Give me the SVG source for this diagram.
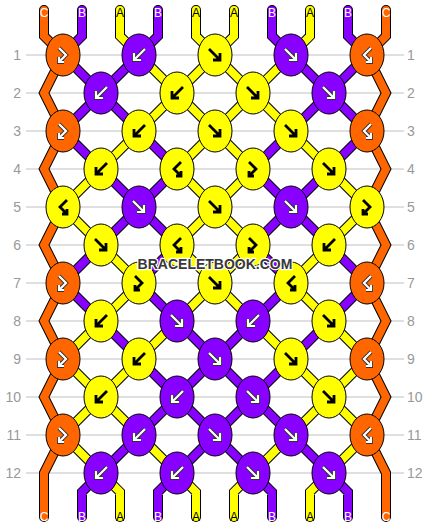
<svg xmlns="http://www.w3.org/2000/svg" xmlns:xlink="http://www.w3.org/1999/xlink" width="430" height="528" viewBox="0 0 430 528">
<style>
.ln{stroke:#c0c0c0;stroke-width:1}
.rn{font-family:"Liberation Sans",Arial,sans-serif;font-size:14px;fill:#999}
.rl{text-anchor:end}
.so{fill:none;stroke:#000;stroke-width:10;stroke-linecap:round;stroke-linejoin:miter}
.sf{fill:none;stroke-width:8;stroke-linecap:round;stroke-linejoin:miter}
.cy{stroke:#ffff00}.cp{stroke:#8800ff}.co{stroke:#ff6600}
.k{stroke:#000;stroke-width:1}
.ky{fill:#ffff00}.kp{fill:#8800ff}.ko{fill:#ff6600}
.ab{fill:none;stroke:#000;stroke-width:2.8}
.ao{fill:none;stroke:#333;stroke-width:4}
.aw{fill:none;stroke:#fff;stroke-width:2.2}
.lb{font-family:"Liberation Sans",Arial,sans-serif;font-size:12px;text-anchor:middle}
.lw{fill:#fff}.lk{fill:#000}
.wm{font-family:"Liberation Sans",Arial,sans-serif;font-weight:bold;font-size:14px;text-anchor:middle;fill:#383838;stroke:#fff;stroke-width:2.5;paint-order:stroke;stroke-linejoin:round}
</style>
<defs>
<path id="F" d="M-6 -6L5 5M5 -2V5H-2"/>
<path id="B" d="M6 -6L-5 5M-5 -2V5H2"/>
<path id="FB" d="M-4 -7L3 0L-4 7M-4 2V7H1"/>
<path id="BF" d="M4 -7L-3 0L4 7M4 2V7H-1"/>
<path id="sY" d="M139 55L177 93M215 55L177 93M215 55L253 93M291 55L253 93M177 93L139 131M177 93L215 131M253 93L215 131M253 93L291 131M139 131L101 169M215 131L177 169M215 131L253 169M291 131L329 169M101 169L63 207M177 169L215 207M253 169L215 207M329 169L367 207M63 207L101 245M215 207L177 245M215 207L253 245M367 207L329 245M101 245L139 283M177 245L215 283M253 245L215 283M329 245L291 283M139 283L101 321M215 283L177 321M215 283L253 321M291 283L329 321M101 321L63 359M177 321L139 359M253 321L291 359M329 321L367 359M63 359L101 397M139 359L101 397M291 359L329 397M367 359L329 397M101 397L63 435M101 397L139 435M329 397L291 435M329 397L367 435M63 435L101 473M139 435L177 473M291 435L253 473M367 435L329 473M120 10L120 36L139 55M196 10L196 36L215 55M234 10L234 36L215 55M310 10L310 36L291 55M101 473L120 492L120 517M177 473L196 492L196 517M253 473L234 492L234 517M329 473L310 492L310 517"/>
<path id="sP" d="M63 55L101 93M139 55L101 93M291 55L329 93M367 55L329 93M101 93L63 131M101 93L139 131M329 93L291 131M329 93L367 131M63 131L101 169M139 131L177 169M291 131L253 169M367 131L329 169M101 169L139 207M177 169L139 207M253 169L291 207M329 169L291 207M139 207L101 245M139 207L177 245M291 207L253 245M291 207L329 245M101 245L63 283M177 245L139 283M253 245L291 283M329 245L367 283M63 283L101 321M139 283L177 321M291 283L253 321M367 283L329 321M101 321L139 359M177 321L215 359M253 321L215 359M329 321L291 359M139 359L177 397M215 359L177 397M215 359L253 397M291 359L253 397M177 397L139 435M177 397L215 435M253 397L215 435M253 397L291 435M139 435L101 473M215 435L177 473M215 435L253 473M291 435L329 473M82 10L82 36L63 55M158 10L158 36L139 55M272 10L272 36L291 55M348 10L348 36L367 55M101 473L82 492L82 517M177 473L158 492L158 517M253 473L272 492L272 517M329 473L348 492L348 517"/>
<path id="sO" d="M44 10L44 36L63 55L44 93L63 131L44 169L63 207L44 245L63 283L44 321L63 359L44 397L63 435L44 473L44 517M386 10L386 36L367 55L386 93L367 131L386 169L367 207L386 245L367 283L386 321L367 359L386 397L367 435L386 473L386 517"/>
</defs>
<g id="grid">
<line class="ln" x1="26" y1="55" x2="404" y2="55"/><line class="ln" x1="26" y1="93" x2="404" y2="93"/><line class="ln" x1="26" y1="131" x2="404" y2="131"/><line class="ln" x1="26" y1="169" x2="404" y2="169"/><line class="ln" x1="26" y1="207" x2="404" y2="207"/><line class="ln" x1="26" y1="245" x2="404" y2="245"/><line class="ln" x1="26" y1="283" x2="404" y2="283"/><line class="ln" x1="26" y1="321" x2="404" y2="321"/><line class="ln" x1="26" y1="359" x2="404" y2="359"/><line class="ln" x1="26" y1="397" x2="404" y2="397"/><line class="ln" x1="26" y1="435" x2="404" y2="435"/><line class="ln" x1="26" y1="473" x2="404" y2="473"/>
<g class="rn">
<text class="rl" x="21" y="60">1</text><text class="rl" x="21" y="98">2</text><text class="rl" x="21" y="136">3</text><text class="rl" x="21" y="174">4</text><text class="rl" x="21" y="212">5</text><text class="rl" x="21" y="250">6</text><text class="rl" x="21" y="288">7</text><text class="rl" x="21" y="326">8</text><text class="rl" x="21" y="364">9</text><text class="rl" x="21" y="402">10</text><text class="rl" x="21" y="440">11</text><text class="rl" x="21" y="478">12</text>
<text x="407" y="60">1</text><text x="407" y="98">2</text><text x="407" y="136">3</text><text x="407" y="174">4</text><text x="407" y="212">5</text><text x="407" y="250">6</text><text x="407" y="288">7</text><text x="407" y="326">8</text><text x="407" y="364">9</text><text x="407" y="402">10</text><text x="407" y="440">11</text><text x="407" y="478">12</text>
</g>
</g>
<g id="connectors">
<use href="#sY" class="so"/><use href="#sP" class="so"/><use href="#sO" class="so"/>
<use href="#sY" class="sf cy"/><use href="#sP" class="sf cp"/><use href="#sO" class="sf co"/>
</g>
<g id="labels">
<text class="lb lw" x="44" y="17">C</text><text class="lb lw" x="82" y="17">B</text><text class="lb lk" x="120" y="17">A</text><text class="lb lw" x="158" y="17">B</text><text class="lb lk" x="196" y="17">A</text><text class="lb lk" x="234" y="17">A</text><text class="lb lw" x="272" y="17">B</text><text class="lb lk" x="310" y="17">A</text><text class="lb lw" x="348" y="17">B</text><text class="lb lw" x="386" y="17">C</text>
<text class="lb lw" x="44" y="521">C</text><text class="lb lw" x="82" y="521">B</text><text class="lb lk" x="120" y="521">A</text><text class="lb lw" x="158" y="521">B</text><text class="lb lk" x="196" y="521">A</text><text class="lb lk" x="234" y="521">A</text><text class="lb lw" x="272" y="521">B</text><text class="lb lk" x="310" y="521">A</text><text class="lb lw" x="348" y="521">B</text><text class="lb lw" x="386" y="521">C</text>
</g>
<g id="knots">
<g id="k1-1"><ellipse class="k ko" cx="63" cy="55" rx="17" ry="21"/><use href="#FB" x="63" y="55" class="ao"/><use href="#FB" x="63" y="55" class="aw"/></g>
<g id="k1-2"><ellipse class="k kp" cx="139" cy="55" rx="17" ry="21"/><use href="#B" x="139" y="55" class="ao"/><use href="#B" x="139" y="55" class="aw"/></g>
<g id="k1-3"><ellipse class="k ky" cx="215" cy="55" rx="17" ry="21"/><use href="#F" x="215" y="55" class="ab"/></g>
<g id="k1-4"><ellipse class="k kp" cx="291" cy="55" rx="17" ry="21"/><use href="#F" x="291" y="55" class="ao"/><use href="#F" x="291" y="55" class="aw"/></g>
<g id="k1-5"><ellipse class="k ko" cx="367" cy="55" rx="17" ry="21"/><use href="#BF" x="367" y="55" class="ao"/><use href="#BF" x="367" y="55" class="aw"/></g>
<g id="k2-1"><ellipse class="k kp" cx="101" cy="93" rx="17" ry="21"/><use href="#B" x="101" y="93" class="ao"/><use href="#B" x="101" y="93" class="aw"/></g>
<g id="k2-2"><ellipse class="k ky" cx="177" cy="93" rx="17" ry="21"/><use href="#B" x="177" y="93" class="ab"/></g>
<g id="k2-3"><ellipse class="k ky" cx="253" cy="93" rx="17" ry="21"/><use href="#F" x="253" y="93" class="ab"/></g>
<g id="k2-4"><ellipse class="k kp" cx="329" cy="93" rx="17" ry="21"/><use href="#F" x="329" y="93" class="ao"/><use href="#F" x="329" y="93" class="aw"/></g>
<g id="k3-1"><ellipse class="k ko" cx="63" cy="131" rx="17" ry="21"/><use href="#FB" x="63" y="131" class="ao"/><use href="#FB" x="63" y="131" class="aw"/></g>
<g id="k3-2"><ellipse class="k ky" cx="139" cy="131" rx="17" ry="21"/><use href="#B" x="139" y="131" class="ab"/></g>
<g id="k3-3"><ellipse class="k ky" cx="215" cy="131" rx="17" ry="21"/><use href="#F" x="215" y="131" class="ab"/></g>
<g id="k3-4"><ellipse class="k ky" cx="291" cy="131" rx="17" ry="21"/><use href="#F" x="291" y="131" class="ab"/></g>
<g id="k3-5"><ellipse class="k ko" cx="367" cy="131" rx="17" ry="21"/><use href="#BF" x="367" y="131" class="ao"/><use href="#BF" x="367" y="131" class="aw"/></g>
<g id="k4-1"><ellipse class="k ky" cx="101" cy="169" rx="17" ry="21"/><use href="#B" x="101" y="169" class="ab"/></g>
<g id="k4-2"><ellipse class="k ky" cx="177" cy="169" rx="17" ry="21"/><use href="#BF" x="177" y="169" class="ab"/></g>
<g id="k4-3"><ellipse class="k ky" cx="253" cy="169" rx="17" ry="21"/><use href="#FB" x="253" y="169" class="ab"/></g>
<g id="k4-4"><ellipse class="k ky" cx="329" cy="169" rx="17" ry="21"/><use href="#F" x="329" y="169" class="ab"/></g>
<g id="k5-1"><ellipse class="k ky" cx="63" cy="207" rx="17" ry="21"/><use href="#BF" x="63" y="207" class="ab"/></g>
<g id="k5-2"><ellipse class="k kp" cx="139" cy="207" rx="17" ry="21"/><use href="#F" x="139" y="207" class="ao"/><use href="#F" x="139" y="207" class="aw"/></g>
<g id="k5-3"><ellipse class="k ky" cx="215" cy="207" rx="17" ry="21"/><use href="#F" x="215" y="207" class="ab"/></g>
<g id="k5-4"><ellipse class="k kp" cx="291" cy="207" rx="17" ry="21"/><use href="#F" x="291" y="207" class="ao"/><use href="#F" x="291" y="207" class="aw"/></g>
<g id="k5-5"><ellipse class="k ky" cx="367" cy="207" rx="17" ry="21"/><use href="#FB" x="367" y="207" class="ab"/></g>
<g id="k6-1"><ellipse class="k ky" cx="101" cy="245" rx="17" ry="21"/><use href="#F" x="101" y="245" class="ab"/></g>
<g id="k6-2"><ellipse class="k ky" cx="177" cy="245" rx="17" ry="21"/><use href="#BF" x="177" y="245" class="ab"/></g>
<g id="k6-3"><ellipse class="k ky" cx="253" cy="245" rx="17" ry="21"/><use href="#FB" x="253" y="245" class="ab"/></g>
<g id="k6-4"><ellipse class="k ky" cx="329" cy="245" rx="17" ry="21"/><use href="#B" x="329" y="245" class="ab"/></g>
<g id="k7-1"><ellipse class="k ko" cx="63" cy="283" rx="17" ry="21"/><use href="#FB" x="63" y="283" class="ao"/><use href="#FB" x="63" y="283" class="aw"/></g>
<g id="k7-2"><ellipse class="k ky" cx="139" cy="283" rx="17" ry="21"/><use href="#FB" x="139" y="283" class="ab"/></g>
<g id="k7-3"><ellipse class="k ky" cx="215" cy="283" rx="17" ry="21"/><use href="#F" x="215" y="283" class="ab"/></g>
<g id="k7-4"><ellipse class="k ky" cx="291" cy="283" rx="17" ry="21"/><use href="#BF" x="291" y="283" class="ab"/></g>
<g id="k7-5"><ellipse class="k ko" cx="367" cy="283" rx="17" ry="21"/><use href="#BF" x="367" y="283" class="ao"/><use href="#BF" x="367" y="283" class="aw"/></g>
<g id="k8-1"><ellipse class="k ky" cx="101" cy="321" rx="17" ry="21"/><use href="#B" x="101" y="321" class="ab"/></g>
<g id="k8-2"><ellipse class="k kp" cx="177" cy="321" rx="17" ry="21"/><use href="#F" x="177" y="321" class="ao"/><use href="#F" x="177" y="321" class="aw"/></g>
<g id="k8-3"><ellipse class="k kp" cx="253" cy="321" rx="17" ry="21"/><use href="#B" x="253" y="321" class="ao"/><use href="#B" x="253" y="321" class="aw"/></g>
<g id="k8-4"><ellipse class="k ky" cx="329" cy="321" rx="17" ry="21"/><use href="#F" x="329" y="321" class="ab"/></g>
<g id="k9-1"><ellipse class="k ko" cx="63" cy="359" rx="17" ry="21"/><use href="#FB" x="63" y="359" class="ao"/><use href="#FB" x="63" y="359" class="aw"/></g>
<g id="k9-2"><ellipse class="k ky" cx="139" cy="359" rx="17" ry="21"/><use href="#B" x="139" y="359" class="ab"/></g>
<g id="k9-3"><ellipse class="k kp" cx="215" cy="359" rx="17" ry="21"/><use href="#F" x="215" y="359" class="ao"/><use href="#F" x="215" y="359" class="aw"/></g>
<g id="k9-4"><ellipse class="k ky" cx="291" cy="359" rx="17" ry="21"/><use href="#F" x="291" y="359" class="ab"/></g>
<g id="k9-5"><ellipse class="k ko" cx="367" cy="359" rx="17" ry="21"/><use href="#BF" x="367" y="359" class="ao"/><use href="#BF" x="367" y="359" class="aw"/></g>
<g id="k10-1"><ellipse class="k ky" cx="101" cy="397" rx="17" ry="21"/><use href="#B" x="101" y="397" class="ab"/></g>
<g id="k10-2"><ellipse class="k kp" cx="177" cy="397" rx="17" ry="21"/><use href="#B" x="177" y="397" class="ao"/><use href="#B" x="177" y="397" class="aw"/></g>
<g id="k10-3"><ellipse class="k kp" cx="253" cy="397" rx="17" ry="21"/><use href="#F" x="253" y="397" class="ao"/><use href="#F" x="253" y="397" class="aw"/></g>
<g id="k10-4"><ellipse class="k ky" cx="329" cy="397" rx="17" ry="21"/><use href="#F" x="329" y="397" class="ab"/></g>
<g id="k11-1"><ellipse class="k ko" cx="63" cy="435" rx="17" ry="21"/><use href="#FB" x="63" y="435" class="ao"/><use href="#FB" x="63" y="435" class="aw"/></g>
<g id="k11-2"><ellipse class="k kp" cx="139" cy="435" rx="17" ry="21"/><use href="#B" x="139" y="435" class="ao"/><use href="#B" x="139" y="435" class="aw"/></g>
<g id="k11-3"><ellipse class="k kp" cx="215" cy="435" rx="17" ry="21"/><use href="#F" x="215" y="435" class="ao"/><use href="#F" x="215" y="435" class="aw"/></g>
<g id="k11-4"><ellipse class="k kp" cx="291" cy="435" rx="17" ry="21"/><use href="#F" x="291" y="435" class="ao"/><use href="#F" x="291" y="435" class="aw"/></g>
<g id="k11-5"><ellipse class="k ko" cx="367" cy="435" rx="17" ry="21"/><use href="#BF" x="367" y="435" class="ao"/><use href="#BF" x="367" y="435" class="aw"/></g>
<g id="k12-1"><ellipse class="k kp" cx="101" cy="473" rx="17" ry="21"/><use href="#B" x="101" y="473" class="ao"/><use href="#B" x="101" y="473" class="aw"/></g>
<g id="k12-2"><ellipse class="k kp" cx="177" cy="473" rx="17" ry="21"/><use href="#B" x="177" y="473" class="ao"/><use href="#B" x="177" y="473" class="aw"/></g>
<g id="k12-3"><ellipse class="k kp" cx="253" cy="473" rx="17" ry="21"/><use href="#F" x="253" y="473" class="ao"/><use href="#F" x="253" y="473" class="aw"/></g>
<g id="k12-4"><ellipse class="k kp" cx="329" cy="473" rx="17" ry="21"/><use href="#F" x="329" y="473" class="ao"/><use href="#F" x="329" y="473" class="aw"/></g>
</g>
<text id="watermark" class="wm" x="215" y="269">BRACELETBOOK.COM</text>
</svg>
